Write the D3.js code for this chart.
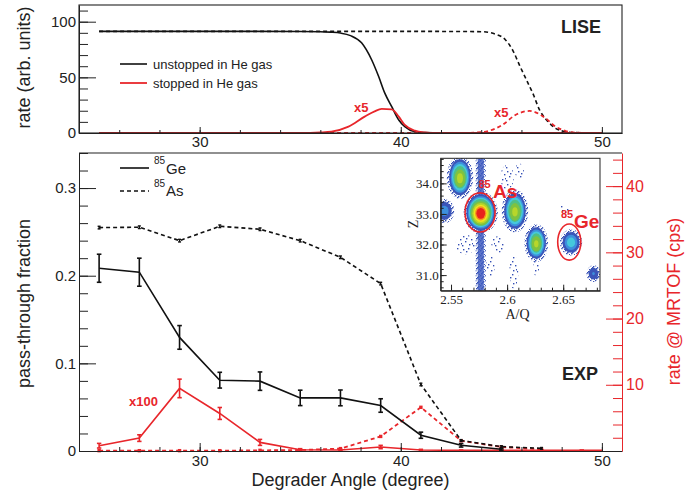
<!DOCTYPE html>
<html><head><meta charset="utf-8">
<script src="https://cdn.jsdelivr.net/npm/d3@7"></script>
<style>
body{margin:0;background:#fff}
svg{display:block}
</style>
</head><body>
<svg id="chart" width="691" height="492" font-family="Liberation Sans, Arial, Helvetica, sans-serif"></svg>
<script>
// ---------------- DATA ----------------
// Top panel (LISE simulation), rate (arb. units)
const liseGeUnstAngle = [25, 30, 35, 36, 36.5, 37, 37.5, 38.05, 38.55, 38.9, 39.2, 39.55, 39.9, 40.2, 40.7, 41.2, 42, 50];
const liseGeUnst      = [91.3, 91.3, 91.2, 91, 90.6, 89.8, 87.5, 81, 65.8, 50.7, 36, 23.7, 11.7, 5.7, 1.2, 0.3, 0, 0];
const liseGeStopAngle = [25, 34, 35.5, 36, 36.55, 37.4, 38.2, 38.7, 39.05, 39.55, 39.9, 40.2, 40.7, 41.2, 41.7, 50];
const liseGeStop      = [0, 0, 0.2, 0.5, 1.2, 5.7, 14.7, 19.5, 21.6, 21.3, 14.7, 7.2, 2.1, 0.5, 0, 0];
const liseAsUnstAngle = [25, 40, 43, 44.05, 44.7, 45.2, 45.6, 45.9, 46.25, 46.6, 46.9, 47.25, 47.7, 48.2, 48.7, 49.5, 50];
const liseAsUnst      = [91.3, 91.3, 91.2, 91, 88.9, 83.8, 73.2, 61, 47.7, 34.2, 20.7, 11.7, 4.2, 1.2, 0.3, 0, 0];
const liseAsStopAngle = [25, 43, 43.8, 44.35, 45.05, 45.7, 46.4, 46.7, 47.2, 47.7, 48.2, 48.7, 49.5, 50];
const liseAsStop      = [0, 0, 0.5, 1.8, 7.2, 16.2, 19.8, 18.6, 13.2, 5.7, 1.8, 0.3, 0, 0];

// Bottom panel (EXP)
const expAngle   = [25, 27, 29, 31, 33, 35, 37, 39, 41, 43, 45, 47, 49, 50];
const geFrac     = [0.2085, 0.204, 0.1296, 0.0808, 0.0797, 0.0606, 0.0606, 0.0519, 0.018, 0.0065, 0.002];
const geFracErr  = [0.016, 0.016, 0.0135, 0.009, 0.0105, 0.0088, 0.009, 0.0077, 0.0035, 0.002, 0.001];
const asFrac     = [0.2549, 0.2553, 0.240, 0.2564, 0.253, 0.240, 0.221, 0.191, 0.0759, 0.012, 0.005, 0.003];
const asFracErr  = [0.0015, 0.0015, 0.0015, 0.0015, 0.0015, 0.0015, 0.0015, 0.0015, 0.0015, 0.001, 0.001, 0.001];
const geRate     = [0.8, 1.95, 9.45, 5.67, 1.3, 0.2, 0.15, 0.6, 0.15, 0.1, 0.1, 0.1, 0.1, 0.1];
const geRateErr  = [0.35, 0.5, 1.4, 0.9, 0.45, 0.15, 0.1, 0.25, 0.1, 0.05, 0.05, 0.05, 0.05, 0];
const asRate     = [0.05, 0.05, 0.05, 0.05, 0.1, 0.15, 0.36, 2.2, 6.6, 1.55, 0.6, 0.25];

// Tick values
const xMajor = [30, 40, 50];
const topYMajor = [0, 50, 100];
const botYMajor = [0, 0.1, 0.2, 0.3];
const rateMajor = [10, 20, 30, 40];
const insetAQTicks = [2.55, 2.6, 2.65];
const insetZTicks = [31, 32, 33, 34];

// Inset (A/Q vs Z) clusters
const blobAQ   = [2.5765, 2.558, 2.607, 2.626, 2.657, 2.544, 2.677];
const blobZ    = [33.05, 34.2, 33.1, 32.05, 32.07, 33.1, 31.05];
const blobRAQ  = [0.0136, 0.0105, 0.0105, 0.0094, 0.0088, 0.008, 0.0056];
const blobRZ   = [0.62, 0.64, 0.64, 0.56, 0.39, 0.36, 0.25];
const blobPeak = [1.0, 0.64, 0.63, 0.62, 0.33, 0.22, 0.16];
const sparseAQ = [2.563, 2.592, 2.600, 2.651, 2.606, 2.626, 2.611, 2.585];
const sparseZ  = [32.0, 32.0, 34.2, 33.15, 31.1, 31.4, 34.4, 31.3];
const sparseRAQ= [0.009, 0.006, 0.006, 0.004, 0.004, 0.003, 0.004, 0.004];
const sparseRZ = [0.32, 0.28, 0.4, 0.15, 0.55, 0.45, 0.25, 0.35];
const stripeAQ = [2.5738, 2.5792];
const ringAQ = [2.5759, 2.6554];
const ringZ  = [33.05, 32.08];
const ringRAQ = [0.0134, 0.0103];
const ringRZ  = [0.64, 0.59];

// ---------------- DRAW ----------------
const RED = "#e8262b";
const SANS = "Liberation Sans, Arial, Helvetica, sans-serif";
const SERIF = "Liberation Serif, Times New Roman, serif";
const svg = d3.select("#chart");

const x = d3.scaleLinear().domain([24, 51]).range([79, 622]);
const yTop = d3.scaleLinear().domain([0, 115]).range([133, 5]);
const yBot = d3.scaleLinear().domain([0, 0.34]).range([451, 153]);
const yRate = d3.scaleLinear().domain([0, 45]).range([451, 153]);

function styleAxis(g, size, color, family) {
  g.attr("font-family", null).attr("font-size", null);
  g.selectAll("text").style("font-size", size + "px").attr("fill", color)
    .style("font-family", family || SANS);
  g.selectAll("line").attr("stroke", color);
  g.select(".domain").attr("stroke", color);
}
function minorTicks(scale, step) {
  const [a, b] = scale.domain();
  const out = [];
  for (let v = Math.ceil(a / step - 1e-9) * step; v <= b + 1e-9; v += step) out.push(+v.toFixed(6));
  return out;
}

// ===== TOP PANEL =====
const topG = svg.append("g");
const lineTop = (xs, ys) => d3.line().x((d, i) => x(xs[i])).y(d => yTop(d)).curve(d3.curveMonotoneX)(ys);

topG.append("path").attr("d", lineTop(liseAsUnstAngle, liseAsUnst)).attr("fill", "none")
  .attr("stroke", "#111").attr("stroke-width", 1.6).attr("stroke-dasharray", "4,3");
topG.append("path").attr("d", lineTop(liseGeUnstAngle, liseGeUnst)).attr("fill", "none")
  .attr("stroke", "#111").attr("stroke-width", 1.6);
topG.append("path").attr("d", lineTop(liseAsStopAngle, liseAsStop)).attr("fill", "none")
  .attr("stroke", RED).attr("stroke-width", 1.8).attr("stroke-dasharray", "4,3");
topG.append("path").attr("d", lineTop(liseGeStopAngle, liseGeStop)).attr("fill", "none")
  .attr("stroke", RED).attr("stroke-width", 1.8);

// axes top
const tl = topG.append("g").attr("transform", "translate(79,0)")
  .call(d3.axisLeft(yTop).tickValues(topYMajor).tickSize(-17).tickSizeOuter(0).tickPadding(3));
styleAxis(tl, 15, "#222");
const tlm = topG.append("g").attr("transform", "translate(79,0)")
  .call(d3.axisLeft(yTop).tickValues(minorTicks(yTop, 10)).tickSize(-9).tickSizeOuter(0).tickFormat(""));
styleAxis(tlm, 15, "#222"); tlm.select(".domain").remove();
const tb = topG.append("g").attr("transform", "translate(0,133)")
  .call(d3.axisBottom(x).tickValues(xMajor).tickSize(-6).tickSizeOuter(0).tickPadding(3.5));
styleAxis(tb, 15, "#222");
const tbm = topG.append("g").attr("transform", "translate(0,133)")
  .call(d3.axisBottom(x).tickValues(minorTicks(x, 2).filter(v => v > 24.5 && v < 50.5)).tickSize(-3).tickSizeOuter(0).tickFormat(""));
styleAxis(tbm, 15, "#222"); tbm.select(".domain").remove();
topG.append("rect").attr("x", 79).attr("y", 5).attr("width", 543).attr("height", 128)
  .attr("fill", "none").attr("stroke", "#222").attr("stroke-width", 1.1);

// top legend
topG.append("line").attr("x1", 120).attr("x2", 147).attr("y1", 64).attr("y2", 64).attr("stroke", "#111").attr("stroke-width", 1.6);
topG.append("text").attr("x", 153).attr("y", 68.5).attr("font-size", 13).attr("fill", "#222").text("unstopped in He gas");
topG.append("line").attr("x1", 120).attr("x2", 147).attr("y1", 83).attr("y2", 83).attr("stroke", RED).attr("stroke-width", 1.8);
topG.append("text").attr("x", 153).attr("y", 87.5).attr("font-size", 13).attr("fill", "#222").text("stopped in He gas");

topG.append("text").attr("x", 354).attr("y", 111.5).attr("font-size", 13).attr("font-weight", "bold").attr("fill", RED).text("x5");
topG.append("text").attr("x", 494).attr("y", 116.5).attr("font-size", 13).attr("font-weight", "bold").attr("fill", RED).text("x5");
topG.append("text").attr("x", 561).attr("y", 33).attr("font-size", 18).attr("font-weight", "bold").attr("fill", "#222").text("LISE");
topG.append("text").attr("transform", "translate(30,67.5) rotate(-90)").attr("text-anchor", "middle")
  .attr("font-size", 18).attr("fill", "#222").text("rate (arb. units)");

// ===== BOTTOM PANEL =====
const bot = svg.append("g");
const lineB = (ys, sc) => d3.line().x((d, i) => x(expAngle[i])).y(d => sc(d))(ys);

function errBars(vals, errs, sc, color, cap, w) {
  const g = bot.append("g");
  vals.forEach((v, i) => {
    if (!errs[i]) return;
    const cx = x(expAngle[i]), y1 = sc(v - errs[i]), y2 = sc(v + errs[i]);
    g.append("line").attr("x1", cx).attr("x2", cx).attr("y1", y1).attr("y2", y2).attr("stroke", color).attr("stroke-width", w);
    g.append("line").attr("x1", cx - cap).attr("x2", cx + cap).attr("y1", y1).attr("y2", y1).attr("stroke", color).attr("stroke-width", w);
    g.append("line").attr("x1", cx - cap).attr("x2", cx + cap).attr("y1", y2).attr("y2", y2).attr("stroke", color).attr("stroke-width", w);
  });
}

// red curves (rate)
bot.append("path").attr("d", lineB(asRate, yRate)).attr("fill", "none").attr("stroke", RED)
  .attr("stroke-width", 1.8).attr("stroke-dasharray", "4,3");
bot.selectAll(".asr").data(asRate).enter().append("rect")
  .attr("x", (d, i) => x(expAngle[i]) - 1.7).attr("y", d => yRate(d) - 1.7).attr("width", 3.4).attr("height", 3.4).attr("fill", RED);
bot.append("path").attr("d", lineB(geRate, yRate)).attr("fill", "none").attr("stroke", RED).attr("stroke-width", 1.6);
errBars(geRate, geRateErr, yRate, RED, 2.2, 1.6);

// black curves
bot.append("path").attr("d", lineB(asFrac, yBot)).attr("fill", "none").attr("stroke", "#111")
  .attr("stroke-width", 1.6).attr("stroke-dasharray", "4,3");
errBars(asFrac, asFracErr, yBot, "#111", 1.5, 1.4);
bot.append("path").attr("d", lineB(geFrac, yBot)).attr("fill", "none").attr("stroke", "#111").attr("stroke-width", 1.6);
errBars(geFrac, geFracErr, yBot, "#111", 2.3, 1.6);

// axes bottom
const bl = bot.append("g").attr("transform", "translate(79,0)")
  .call(d3.axisLeft(yBot).tickValues(botYMajor).tickSize(-17).tickSizeOuter(0).tickPadding(3).tickFormat(d => d === 0 ? "0" : d3.format(".1f")(d)));
styleAxis(bl, 15, "#222");
const blm = bot.append("g").attr("transform", "translate(79,0)")
  .call(d3.axisLeft(yBot).tickValues(minorTicks(yBot, 0.02)).tickSize(-9).tickSizeOuter(0).tickFormat(""));
styleAxis(blm, 15, "#222"); blm.select(".domain").remove();
const bb = bot.append("g").attr("transform", "translate(0,451)")
  .call(d3.axisBottom(x).tickValues(xMajor).tickSize(-8).tickSizeOuter(0).tickPadding(4.5));
styleAxis(bb, 15, "#222");
const bbm = bot.append("g").attr("transform", "translate(0,451)")
  .call(d3.axisBottom(x).tickValues(minorTicks(x, 2).filter(v => v > 24.5 && v < 50.5)).tickSize(-4).tickSizeOuter(0).tickFormat(""));
styleAxis(bbm, 15, "#222"); bbm.select(".domain").remove();
const br = bot.append("g").attr("transform", "translate(622,0)")
  .call(d3.axisRight(yRate).tickValues(rateMajor).tickSize(-16).tickSizeOuter(0).tickPadding(4));
styleAxis(br, 16, RED);
const brm = bot.append("g").attr("transform", "translate(622,0)")
  .call(d3.axisRight(yRate).tickValues(minorTicks(yRate, 2).filter(v => v > 0)).tickSize(-9).tickSizeOuter(0).tickFormat(""));
styleAxis(brm, 16, RED); brm.select(".domain").remove();
bot.append("line").attr("x1", 79).attr("x2", 622).attr("y1", 153).attr("y2", 153).attr("stroke", "#222").attr("stroke-width", 1.1);

// bottom legend
bot.append("line").attr("x1", 120).attr("x2", 149).attr("y1", 168).attr("y2", 168).attr("stroke", "#111").attr("stroke-width", 1.6);
bot.append("text").attr("x", 154).attr("y", 164).attr("font-size", 10).attr("fill", "#222").text("85");
bot.append("text").attr("x", 166).attr("y", 173.5).attr("font-size", 15).attr("fill", "#222").text("Ge");
bot.append("line").attr("x1", 120).attr("x2", 149).attr("y1", 191).attr("y2", 191).attr("stroke", "#111").attr("stroke-width", 1.6).attr("stroke-dasharray", "4,3");
bot.append("text").attr("x", 154).attr("y", 187).attr("font-size", 10).attr("fill", "#222").text("85");
bot.append("text").attr("x", 166).attr("y", 196).attr("font-size", 15).attr("fill", "#222").text("As");

bot.append("text").attr("x", 129).attr("y", 406).attr("font-size", 13).attr("font-weight", "bold").attr("fill", RED).text("x100");
bot.append("text").attr("x", 562).attr("y", 380).attr("font-size", 18).attr("font-weight", "bold").attr("fill", "#222").text("EXP");

bot.append("text").attr("transform", "translate(30,303.5) rotate(-90)").attr("text-anchor", "middle")
  .attr("font-size", 18).attr("fill", "#222").text("pass-through fraction");
bot.append("text").attr("transform", "translate(680,301.5) rotate(-90)").attr("text-anchor", "middle")
  .attr("font-size", 18).attr("fill", RED).text("rate @ MRTOF (cps)");
bot.append("text").attr("x", 350.5).attr("y", 486).attr("text-anchor", "middle")
  .attr("font-size", 18).attr("fill", "#222").text("Degrader Angle (degree)");

// ===== INSET =====
const aq = d3.scaleLinear().domain([2.5408, 2.6828]).range([440.7, 600]);
const zS = d3.scaleLinear().domain([30.49, 34.82]).range([290.7, 158.3]);
const ins = svg.append("g");
const defs = svg.append("defs");
defs.append("clipPath").attr("id", "insClip").append("rect")
  .attr("x", 440.7).attr("y", 158.3).attr("width", 159.3).attr("height", 132.4);
const pat = defs.append("pattern").attr("id", "speck").attr("patternUnits", "userSpaceOnUse")
  .attr("width", 11).attr("height", 13);
[[1,2],[6,1],[3,7],[9,5],[7,10],[0,11],[4,4],[10,9]].forEach(p =>
  pat.append("rect").attr("x", p[0]).attr("y", p[1]).attr("width", 1.4).attr("height", 1.4).attr("fill", "#3550b5"));
const pat2 = defs.append("pattern").attr("id", "speck2").attr("patternUnits", "userSpaceOnUse")
  .attr("width", 5).attr("height", 5);
[[0,0],[3,1],[1,3],[4,4],[2,2]].forEach(p =>
  pat2.append("rect").attr("x", p[0]).attr("y", p[1]).attr("width", 1.4).attr("height", 1.4).attr("fill", "#3550b5"));
defs.append("filter").attr("id", "soft").append("feGaussianBlur").attr("stdDeviation", 0.7);

ins.append("rect").attr("x", 440.7).attr("y", 158.3).attr("width", 159.3).attr("height", 132.4).attr("fill", "#fff");
const body = ins.append("g").attr("clip-path", "url(#insClip)");

// sparse regions
sparseAQ.forEach((a, i) => {
  body.append("ellipse").attr("cx", aq(a)).attr("cy", zS(sparseZ[i]))
    .attr("rx", aq(a + sparseRAQ[i]) - aq(a)).attr("ry", zS(sparseZ[i]) - zS(sparseZ[i] + sparseRZ[i]))
    .attr("fill", "url(#speck)");
});
// vertical stripe
body.append("rect").attr("x", aq(stripeAQ[0]) - 2).attr("y", 158.3).attr("width", aq(stripeAQ[1]) - aq(stripeAQ[0]) + 4).attr("height", 132.4)
  .attr("fill", "url(#speck2)");
body.append("rect").attr("x", aq(stripeAQ[0])).attr("y", 158.3).attr("width", aq(stripeAQ[1]) - aq(stripeAQ[0])).attr("height", 132.4)
  .attr("fill", "#3f5cc0").attr("opacity", 0.85).attr("filter", "url(#soft)");

// blobs with colour levels
const levels = [0.04, 0.15, 0.25, 0.35, 0.45, 0.58, 0.7, 0.8, 0.88];
const levColor = ["#3a55b8", "#3d8fdc", "#45c8dc", "#4fbf86", "#7fc241", "#b8d62c", "#f2e41c", "#f39222", "#e8201c"];
blobAQ.forEach((a, i) => {
  const p = blobPeak[i];
  const cx = aq(a), cy = zS(blobZ[i]);
  const RX = aq(a + blobRAQ[i]) - cx, RY = cy - zS(blobZ[i] + blobRZ[i]);
  body.append("ellipse").attr("cx", cx).attr("cy", cy).attr("rx", RX * 1.12).attr("ry", RY * 1.1).attr("fill", "url(#speck2)");
  levels.forEach((L, k) => {
    if (L >= p) return;
    const f = Math.sqrt(1 - Math.pow(L / p, 2 / 3));
    body.append("ellipse").attr("cx", cx).attr("cy", cy + (k > 3 ? RY * 0.05 : 0)).attr("rx", RX * f).attr("ry", RY * f)
      .attr("fill", levColor[k]).attr("filter", "url(#soft)");
  });
});

// inset axes
const ia = ins.append("g").attr("transform", "translate(0,290.7)")
  .call(d3.axisBottom(aq).tickValues(insetAQTicks).tickSize(-6).tickSizeOuter(0).tickPadding(4).tickFormat(d3.format("")));
styleAxis(ia, 13, "#222", SERIF);
const iam = ins.append("g").attr("transform", "translate(0,290.7)")
  .call(d3.axisBottom(aq).tickValues(minorTicks(aq, 0.01)).tickSize(-3).tickSizeOuter(0).tickFormat(""));
styleAxis(iam, 13, "#222"); iam.select(".domain").remove();
const iz = ins.append("g").attr("transform", "translate(440.7,0)")
  .call(d3.axisLeft(zS).tickValues(insetZTicks).tickSize(-6).tickSizeOuter(0).tickPadding(2));
styleAxis(iz, 13, "#222", SERIF);
const izm = ins.append("g").attr("transform", "translate(440.7,0)")
  .call(d3.axisLeft(zS).tickValues(minorTicks(zS, 0.2)).tickSize(-3).tickSizeOuter(0).tickFormat(""));
styleAxis(izm, 13, "#222"); izm.select(".domain").remove();
ins.append("rect").attr("x", 440.7).attr("y", 158.3).attr("width", 159.3).attr("height", 132.4)
  .attr("fill", "none").attr("stroke", "#222").attr("stroke-width", 1);
ins.append("text").attr("x", 517.5).attr("y", 319).attr("text-anchor", "middle").style("font-size", "14px")
  .style("font-family", SERIF).attr("fill", "#222").text("A/Q");
ins.append("text").attr("transform", "translate(418,224) rotate(-90)").attr("text-anchor", "middle").style("font-size", "14px")
  .style("font-family", SERIF).attr("fill", "#222").text("Z");

// red rings and labels
ringAQ.forEach((a, i) => {
  ins.append("ellipse").attr("cx", aq(a)).attr("cy", zS(ringZ[i]))
    .attr("rx", aq(a + ringRAQ[i]) - aq(a)).attr("ry", zS(ringZ[i]) - zS(ringZ[i] + ringRZ[i]))
    .attr("fill", "none").attr("stroke", RED).attr("stroke-width", 1.6);
});
ins.append("text").attr("x", 478.5).attr("y", 187.5).attr("font-size", 11).attr("font-weight", "bold").attr("fill", RED).text("85");
ins.append("text").attr("x", 493).attr("y", 197.5).attr("font-size", 19).attr("font-weight", "bold").attr("fill", RED).text("As");
ins.append("text").attr("x", 561).attr("y", 217.5).attr("font-size", 11).attr("font-weight", "bold").attr("fill", RED).text("85");
ins.append("text").attr("x", 574).attr("y", 228).attr("font-size", 19).attr("font-weight", "bold").attr("fill", RED).text("Ge");
</script>
</body></html>
